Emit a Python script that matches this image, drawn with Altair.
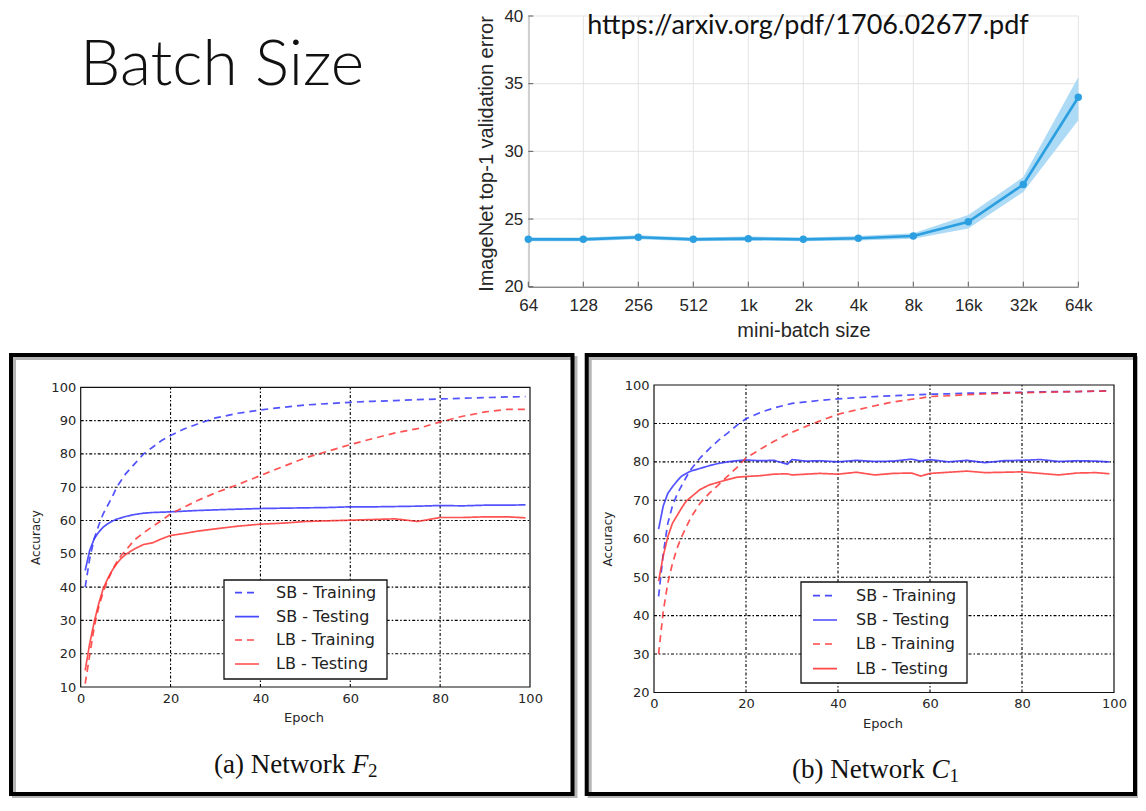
import altair as alt
import pandas as pd

# ---------------- data ----------------
TITLE = "Batch Size"
URL = "https://arxiv.org/pdf/1706.02677.pdf"

batch_sizes = ["64", "128", "256", "512", "1k", "2k", "4k", "8k", "16k", "32k", "64k"]
val_error = [23.5, 23.5, 23.65, 23.5, 23.55, 23.5, 23.58, 23.75, 24.8, 27.55, 34.0]
val_error_lo = [23.35, 23.36, 23.5, 23.36, 23.4, 23.36, 23.42, 23.55, 24.3, 27.0, 32.3]
val_error_hi = [23.65, 23.64, 23.8, 23.64, 23.7, 23.64, 23.74, 23.95, 25.3, 28.1, 35.5]
top_y_ticks = [20, 25, 30, 35, 40]
top_x_title = "mini-batch size"
top_y_title = "ImageNet top-1 validation error"

series_names = ["SB - Training", "SB - Testing", "LB - Training", "LB - Testing"]
panel_x_ticks = [0, 20, 40, 60, 80, 100]

epochs_a = [1, 2, 3, 4, 5, 6, 7, 8, 9, 10, 12, 14, 16, 18, 20, 23, 26, 30, 35, 40,
            45, 50, 55, 60, 65, 70, 75, 80, 85, 90, 95, 99]
sb_train_a = [40, 48.5, 54.5, 58.5, 62, 64.5, 67, 70, 72, 74, 77, 80, 82, 84, 85.5,
              87.5, 89, 90.8, 92.2, 93.2, 94, 94.7, 95.1, 95.5, 95.8, 96.0, 96.3, 96.5,
              96.7, 96.9, 97.1, 97.2]
sb_test_a = [45, 51, 54.5, 56.5, 58, 59, 59.8, 60.4, 60.8, 61.2, 61.8, 62.2, 62.4, 62.5,
             62.6, 62.8, 63.0, 63.2, 63.4, 63.6, 63.7, 63.8, 63.9, 64.1, 64.1, 64.2, 64.3,
             64.5, 64.4, 64.6, 64.6, 64.7]
lb_train_a = [11, 19.5, 28, 34, 38.5, 42, 45, 47.5, 49.5, 51, 54.2, 56.3, 58.2, 60, 62,
              64, 66, 68.3, 70.8, 73.5, 76.2, 78.8, 80.8, 82.8, 84.6, 86.3, 87.6, 89.6,
              91.3, 92.6, 93.4, 93.4]
lb_test_a = [15, 23, 29.5, 35, 39.5, 42.5, 45, 47, 48.6, 49.8, 51.5, 52.8, 53.3, 54.5,
             55.5, 56.1, 56.8, 57.5, 58.3, 58.9, 59.2, 59.7, 59.9, 60.1, 60.3, 60.5, 59.7,
             60.9, 60.9, 61.1, 61.1, 60.8]
y_ticks_a = [10, 20, 30, 40, 50, 60, 70, 80, 90, 100]
caption_a = ["(a) Network ", "F", "2"]

epochs_b = [1, 2, 3, 4, 5, 6, 7, 8, 10, 12, 14, 16, 18, 20, 23, 26, 29, 30, 33, 36, 40,
            44, 48, 52, 56, 58, 60, 64, 68, 72, 76, 80, 84, 88, 92, 96, 99]
sb_train_b = [45, 56, 64, 68.5, 71.5, 73.8, 76, 78, 81, 83.4, 85.6, 87.5, 89.5, 91.2,
              92.8, 94, 94.9, 95.2, 95.6, 96.0, 96.4, 96.7, 97.0, 97.2, 97.4, 97.5, 97.6,
              97.7, 97.9, 97.9, 98.0, 98.1, 98.2, 98.3, 98.3, 98.4, 98.5]
sb_test_b = [62.5, 68.5, 71.8, 73.5, 75, 76.3, 77, 77.6, 78.3, 79.0, 79.6, 80.0, 80.3,
             80.5, 80.3, 80.4, 79.4, 80.6, 80.2, 80.3, 80.0, 80.4, 80.1, 80.2, 80.7, 80.2,
             80.6, 80.0, 80.4, 79.8, 80.3, 80.4, 80.6, 80.1, 80.3, 80.2, 80.0]
lb_train_b = [30, 41, 48.5, 53.5, 57.5, 60.5, 63, 65.5, 69.2, 71.8, 74, 76.3, 78.5, 81,
              83.2, 85.3, 87.2, 87.7, 89.2, 90.6, 92.4, 93.5, 94.6, 95.6, 96.3, 96.6, 97.0,
              97.2, 97.5, 97.7, 97.9, 98.0, 98.1, 98.2, 98.3, 98.4, 98.4]
lb_test_b = [49, 55.5, 60.5, 64, 66, 68, 69.8, 70.8, 72.8, 74, 74.7, 75.4, 76, 76.2,
             76.4, 76.8, 76.9, 76.6, 76.8, 77.0, 76.8, 77.3, 76.6, 77.0, 77.1, 76.3, 77.0,
             77.3, 77.6, 77.2, 77.3, 77.4, 77.0, 76.6, 77.1, 77.2, 76.9]
y_ticks_b = [20, 30, 40, 50, 60, 70, 80, 90, 100]
caption_b = ["(b) Network ", "C", "1"]

# ---------------- styles ----------------
W, H = 1130, 790
BLUE, RED = "#3434ff", "#ff3434"
series_colors = [BLUE, BLUE, RED, RED]
series_dashes = [[7, 5], [1, 0], [7, 5], [1, 0]]
TOP_BLUE = "#2c9fe0"
AXIS_GRAY = "#5a5a5a"
SANS = "Liberation Sans"
MPL = "DejaVu Sans"
SERIF = "Liberation Serif"

ONE = pd.DataFrame({"k": [0]})


def label(text, x, y, **mk):
    return alt.Chart(pd.DataFrame({"label": [text]})).mark_text(**mk).encode(
        x=alt.value(x), y=alt.value(y), text="label:N")


layers = []

# ---------------- top chart ----------------
top_df = pd.DataFrame({"batch": batch_sizes, "err": val_error,
                       "lo": val_error_lo, "hi": val_error_hi})
TOP_X0, TOP_X1, TOP_Y0, TOP_Y1 = 520.3, 1070.3, 278.7, 8.0


def xs_top():
    return alt.Scale(type="point", domain=batch_sizes, range=[TOP_X0, TOP_X1], padding=0)


def ys_top():
    return alt.Scale(domain=[20, 40], range=[TOP_Y0, TOP_Y1], nice=False, zero=False)


# light grid
layers.append(alt.Chart(top_df).mark_rule(color="#e3e3e3", strokeWidth=1).encode(
    x=alt.X("batch:N", scale=xs_top(), sort=batch_sizes, axis=None),
    y=alt.Y(datum=20, scale=ys_top(), axis=None), y2=alt.Y2(datum=40)))
layers.append(alt.Chart(pd.DataFrame({"err": top_y_ticks[1:]})).mark_rule(
    color="#e3e3e3", strokeWidth=1).encode(
    y=alt.Y("err:Q", scale=ys_top(), axis=None),
    x=alt.X(datum=batch_sizes[0], type="nominal", scale=xs_top(), axis=None),
    x2=alt.X2(datum=batch_sizes[-1])))
# inward ticks (MATLAB style)
layers.append(alt.Chart(top_df).mark_rule(color=AXIS_GRAY, strokeWidth=1).encode(
    x=alt.X("batch:N", scale=xs_top(), sort=batch_sizes, axis=None),
    y=alt.Y(datum=20, scale=ys_top(), axis=None), y2=alt.value(TOP_Y0 - 5)))
layers.append(alt.Chart(pd.DataFrame({"err": top_y_ticks})).mark_rule(
    color=AXIS_GRAY, strokeWidth=1).encode(
    y=alt.Y("err:Q", scale=ys_top(), axis=None),
    x=alt.X(datum=batch_sizes[0], type="nominal", scale=xs_top(), axis=None),
    x2=alt.value(TOP_X0 + 5)))
# band, line, points
layers.append(alt.Chart(top_df).mark_area(color="#a9d8f4", opacity=0.95).encode(
    x=alt.X("batch:N", scale=xs_top(), sort=batch_sizes, axis=None),
    y=alt.Y("lo:Q", scale=ys_top(), axis=None), y2="hi:Q"))
layers.append(alt.Chart(top_df).mark_line(color=TOP_BLUE, strokeWidth=2.6).encode(
    x=alt.X("batch:N", scale=xs_top(), sort=batch_sizes,
            axis=alt.Axis(orient="bottom", offset=TOP_Y0 - H, title=None, grid=False,
                          ticks=False, tickSize=0, labelPadding=11, labelAngle=0,
                          labelFont=SANS, labelFontSize=17, labelColor="#262626",
                          domainColor=AXIS_GRAY, labelOverlap=False)),
    y=alt.Y("err:Q", scale=ys_top(),
            axis=alt.Axis(orient="left", offset=-TOP_X0, values=top_y_ticks, title=None,
                          grid=False, ticks=False, tickSize=0, labelPadding=5.5,
                          labelFont=SANS, labelFontSize=17, labelColor="#262626",
                          domainColor=AXIS_GRAY, labelOverlap=False, labelFlush=False))))
layers.append(alt.Chart(top_df).mark_point(filled=True, size=55, color=TOP_BLUE,
                                           opacity=1).encode(
    x=alt.X("batch:N", scale=xs_top(), sort=batch_sizes, axis=None),
    y=alt.Y("err:Q", scale=ys_top(), axis=None)))


# ---------------- accuracy panels ----------------
def add_panel(epochs, vals, y_ticks, x_rng, y_rng, legend_geom):
    rows = []
    for name, vs in zip(series_names, vals):
        for e, v in zip(epochs, vs):
            rows.append({"epoch": e, "acc": v, "series": name})
    df = pd.DataFrame(rows)
    ymin, ymax = y_ticks[0], y_ticks[-1]

    def xs():
        return alt.Scale(domain=[0, 100], range=x_rng, nice=False, zero=False)

    def ys():
        return alt.Scale(domain=[ymin, ymax], range=y_rng, nice=False, zero=False)

    xaxis = alt.Axis(orient="bottom", offset=y_rng[0] - H, values=panel_x_ticks,
                     title=None, grid=False, ticks=False, tickSize=0, domain=False,
                     labelPadding=5, labelFont=MPL, labelFontSize=13,
                     labelColor="#262626", labelFlush=False, labelOverlap=False,
                     labelAngle=0)
    yaxis = alt.Axis(orient="left", offset=-x_rng[0], values=y_ticks, title=None,
                     grid=False, ticks=False, tickSize=0, domain=False, labelPadding=5,
                     labelFont=MPL, labelFontSize=13, labelColor="#262626",
                     labelFlush=False, labelOverlap=False)
    grid_style = dict(color="black", strokeWidth=1.1, strokeDash=[3, 2, 1.5, 2])
    layers.append(alt.Chart(pd.DataFrame({"epoch": panel_x_ticks[1:-1]})).mark_rule(
        **grid_style).encode(
        x=alt.X("epoch:Q", scale=xs(), axis=None),
        y=alt.Y(datum=ymin, scale=ys(), axis=None), y2=alt.Y2(datum=ymax)))
    layers.append(alt.Chart(pd.DataFrame({"acc": y_ticks[1:-1]})).mark_rule(
        **grid_style).encode(
        y=alt.Y("acc:Q", scale=ys(), axis=None),
        x=alt.X(datum=0, scale=xs(), axis=None), x2=alt.X2(datum=100)))
    layers.append(alt.Chart(df).mark_line(strokeWidth=1.7, opacity=0.85).encode(
        x=alt.X("epoch:Q", scale=xs(), axis=xaxis),
        y=alt.Y("acc:Q", scale=ys(), axis=yaxis),
        color=alt.Color("series:N", scale=alt.Scale(domain=series_names,
                                                    range=series_colors), legend=None),
        strokeDash=alt.StrokeDash("series:N", scale=alt.Scale(domain=series_names,
                                                               range=series_dashes),
                                  legend=None)))
    layers.append(alt.Chart(ONE).mark_rect(
        fill="white", fillOpacity=0, stroke="#111", strokeWidth=1.2).encode(
        x=alt.X(datum=0, scale=xs(), axis=None), x2=alt.X2(datum=100),
        y=alt.Y(datum=ymin, scale=ys(), axis=None), y2=alt.Y2(datum=ymax)))
    bx0, bx1, by0, by1, rows_y, sx0, sx1, tx = legend_geom
    layers.append(alt.Chart(ONE).mark_rect(
        fill="white", stroke="#111", strokeWidth=1.3).encode(
        x=alt.value(bx0), x2=alt.value(bx1), y=alt.value(by0), y2=alt.value(by1)))
    for name, col, dash, ry in zip(series_names, series_colors, series_dashes, rows_y):
        layers.append(alt.Chart(ONE).mark_rule(
            color=col, strokeWidth=1.7, strokeDash=dash, opacity=0.9).encode(
            x=alt.value(sx0), x2=alt.value(sx1), y=alt.value(ry)))
        layers.append(label(name, tx, ry, font=MPL, fontSize=16, color="#222",
                            align="left", baseline="middle"))


add_panel(epochs_a, [sb_train_a, sb_test_a, lb_train_a, lb_test_a], y_ticks_a,
          [72.7, 522], [679, 379.3],
          (216, 379, 572, 671, [584.7, 608.7, 632, 656], 227, 251, 268))
add_panel(epochs_b, [sb_train_b, sb_test_b, lb_train_b, lb_test_b], y_ticks_b,
          [646, 1106], [684.5, 377],
          (793, 959, 574, 675, [587.7, 612, 636, 660.7], 805, 829, 848))


def add_border(x0, x1, y0, y1):
    layers.append(alt.Chart(ONE).mark_rect(
        fill="white", fillOpacity=0, stroke="#b5b5b5", strokeWidth=4).encode(
        x=alt.value(x0 + 3), x2=alt.value(x1 + 3), y=alt.value(y0 + 3),
        y2=alt.value(y1 + 3)))
    layers.append(alt.Chart(ONE).mark_rect(
        fill="white", fillOpacity=0, stroke="black", strokeWidth=4).encode(
        x=alt.value(x0), x2=alt.value(x1), y=alt.value(y0), y2=alt.value(y1)))


add_border(3, 564.5, 347, 786)
add_border(578.7, 1127, 347, 786)

layers += [
    label(TITLE, 72, 77, font="Lato", fontSize=64, fontWeight=300, color="#111",
          align="left", baseline="alphabetic"),
    label(URL, 800, 26, font="Lato", fontSize=27, color="#111",
          align="center", baseline="alphabetic"),
    label(top_y_title, 478.7, 146, font=SANS, fontSize=20, color="#262626", angle=270,
          align="center", baseline="middle"),
    label(top_x_title, 796, 323, font=SANS, fontSize=20, color="#262626",
          align="center", baseline="middle"),
    label("Accuracy", 28, 529.5, font=MPL, fontSize=12, color="#262626", angle=270,
          align="center", baseline="middle"),
    label("Epoch", 296, 710, font=MPL, fontSize=13, color="#262626",
          align="center", baseline="middle"),
    label("Accuracy", 600, 531, font=MPL, fontSize=12, color="#262626", angle=270,
          align="center", baseline="middle"),
    label("Epoch", 875, 716, font=MPL, fontSize=13, color="#262626",
          align="center", baseline="middle"),
    label(caption_a[0], 206, 765, font=SERIF, fontSize=27, color="#111",
          align="left", baseline="alphabetic"),
    label(caption_a[1], 344, 765, font=SERIF, fontSize=27, fontStyle="italic",
          color="#111", align="left", baseline="alphabetic"),
    label(caption_a[2], 360, 769, font=SERIF, fontSize=19, color="#111",
          align="left", baseline="alphabetic"),
    label(caption_b[0], 784, 770, font=SERIF, fontSize=27, color="#111",
          align="left", baseline="alphabetic"),
    label(caption_b[1], 923.5, 770, font=SERIF, fontSize=27, fontStyle="italic",
          color="#111", align="left", baseline="alphabetic"),
    label(caption_b[2], 941.5, 774, font=SERIF, fontSize=19, color="#111",
          align="left", baseline="alphabetic"),
]

chart = alt.layer(*layers).resolve_scale(
    x="independent", y="independent").resolve_axis(
    x="independent", y="independent").properties(
    width=W, height=H, padding=0,
    autosize=alt.AutoSizeParams(type="none")).configure_view(stroke=None)

chart.save("out.html", embed_options={"renderer": "svg", "actions": False})
